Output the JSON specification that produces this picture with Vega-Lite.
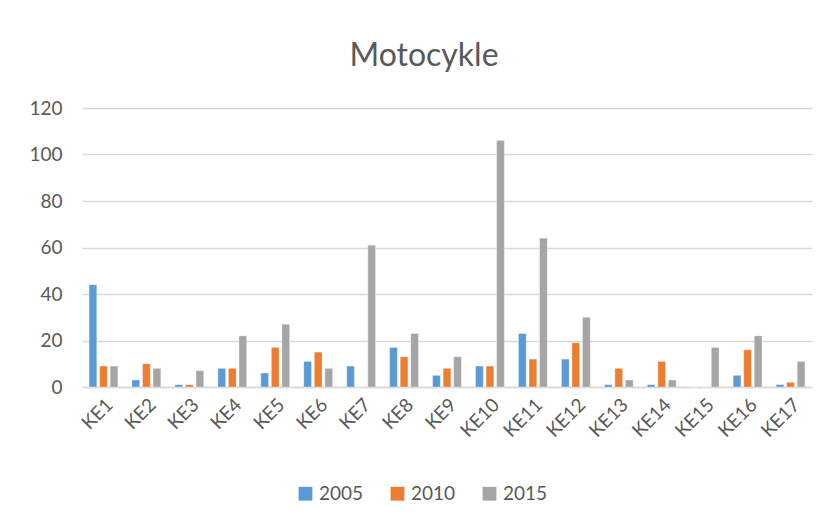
{
  "$schema": "https://vega.github.io/schema/vega-lite/v6.json",
  "autosize": {"type": "none"},
  "width": 730,
  "height": 279,
  "padding": {"left": 82, "top": 108, "right": 20, "bottom": 143},
  "background": "white",
  "title": {"text": "Motocykle", "font": "Lato", "fontSize": 32, "fontWeight": "normal", "color": "#595959", "offset": 26, "dx": -23},
  "data": {"values": [
    {"k": "KE1", "y": "2005", "v": 44}, {"k": "KE1", "y": "2010", "v": 9}, {"k": "KE1", "y": "2015", "v": 9},
    {"k": "KE2", "y": "2005", "v": 3}, {"k": "KE2", "y": "2010", "v": 10}, {"k": "KE2", "y": "2015", "v": 8},
    {"k": "KE3", "y": "2005", "v": 1}, {"k": "KE3", "y": "2010", "v": 1}, {"k": "KE3", "y": "2015", "v": 7},
    {"k": "KE4", "y": "2005", "v": 8}, {"k": "KE4", "y": "2010", "v": 8}, {"k": "KE4", "y": "2015", "v": 22},
    {"k": "KE5", "y": "2005", "v": 6}, {"k": "KE5", "y": "2010", "v": 17}, {"k": "KE5", "y": "2015", "v": 27},
    {"k": "KE6", "y": "2005", "v": 11}, {"k": "KE6", "y": "2010", "v": 15}, {"k": "KE6", "y": "2015", "v": 8},
    {"k": "KE7", "y": "2005", "v": 9}, {"k": "KE7", "y": "2010", "v": 0}, {"k": "KE7", "y": "2015", "v": 61},
    {"k": "KE8", "y": "2005", "v": 17}, {"k": "KE8", "y": "2010", "v": 13}, {"k": "KE8", "y": "2015", "v": 23},
    {"k": "KE9", "y": "2005", "v": 5}, {"k": "KE9", "y": "2010", "v": 8}, {"k": "KE9", "y": "2015", "v": 13},
    {"k": "KE10", "y": "2005", "v": 9}, {"k": "KE10", "y": "2010", "v": 9}, {"k": "KE10", "y": "2015", "v": 106},
    {"k": "KE11", "y": "2005", "v": 23}, {"k": "KE11", "y": "2010", "v": 12}, {"k": "KE11", "y": "2015", "v": 64},
    {"k": "KE12", "y": "2005", "v": 12}, {"k": "KE12", "y": "2010", "v": 19}, {"k": "KE12", "y": "2015", "v": 30},
    {"k": "KE13", "y": "2005", "v": 1}, {"k": "KE13", "y": "2010", "v": 8}, {"k": "KE13", "y": "2015", "v": 3},
    {"k": "KE14", "y": "2005", "v": 1}, {"k": "KE14", "y": "2010", "v": 11}, {"k": "KE14", "y": "2015", "v": 3},
    {"k": "KE15", "y": "2005", "v": 0}, {"k": "KE15", "y": "2010", "v": 0}, {"k": "KE15", "y": "2015", "v": 17},
    {"k": "KE16", "y": "2005", "v": 5}, {"k": "KE16", "y": "2010", "v": 16}, {"k": "KE16", "y": "2015", "v": 22},
    {"k": "KE17", "y": "2005", "v": 1}, {"k": "KE17", "y": "2010", "v": 2}, {"k": "KE17", "y": "2015", "v": 11}
  ]},
  "mark": {"type": "bar", "stroke": "white", "strokeOpacity": 0.6, "strokeWidth": 0.5},
  "encoding": {
    "x": {"field": "k", "type": "nominal", "sort": null,
      "scale": {"paddingInner": 0.33, "paddingOuter": 0.165},
      "axis": {"title": null, "labelAngle": -45, "labelFont": "Lato", "labelFontSize": 19, "labelColor": "#595959", "ticks": false, "labelPadding": 8, "domainColor": "#d9d9d9", "domainWidth": 1.5}},
    "xOffset": {"field": "y", "type": "nominal", "scale": {"paddingInner": 0.27}},
    "y": {"field": "v", "type": "quantitative",
      "scale": {"domain": [0, 120], "nice": false},
      "axis": {"title": null, "values": [0, 20, 40, 60, 80, 100, 120], "labelFont": "Lato", "labelFontSize": 19, "labelColor": "#595959", "ticks": false, "domain": false, "labelPadding": 20, "gridColor": "#d9d9d9", "gridWidth": 1.5}},
    "color": {"field": "y", "type": "nominal", "title": null,
      "scale": {"domain": ["2005", "2010", "2015"], "range": ["#5B9BD5", "#ED7D31", "#A5A5A5"]},
      "legend": {"orient": "none", "legendX": 214, "legendY": 376, "direction": "horizontal", "symbolType": "square", "symbolSize": 190, "symbolStrokeWidth": 0, "labelFont": "Lato", "labelFontSize": 19, "labelColor": "#595959", "columnPadding": 24}}
  },
  "config": {"view": {"stroke": null}}
}
